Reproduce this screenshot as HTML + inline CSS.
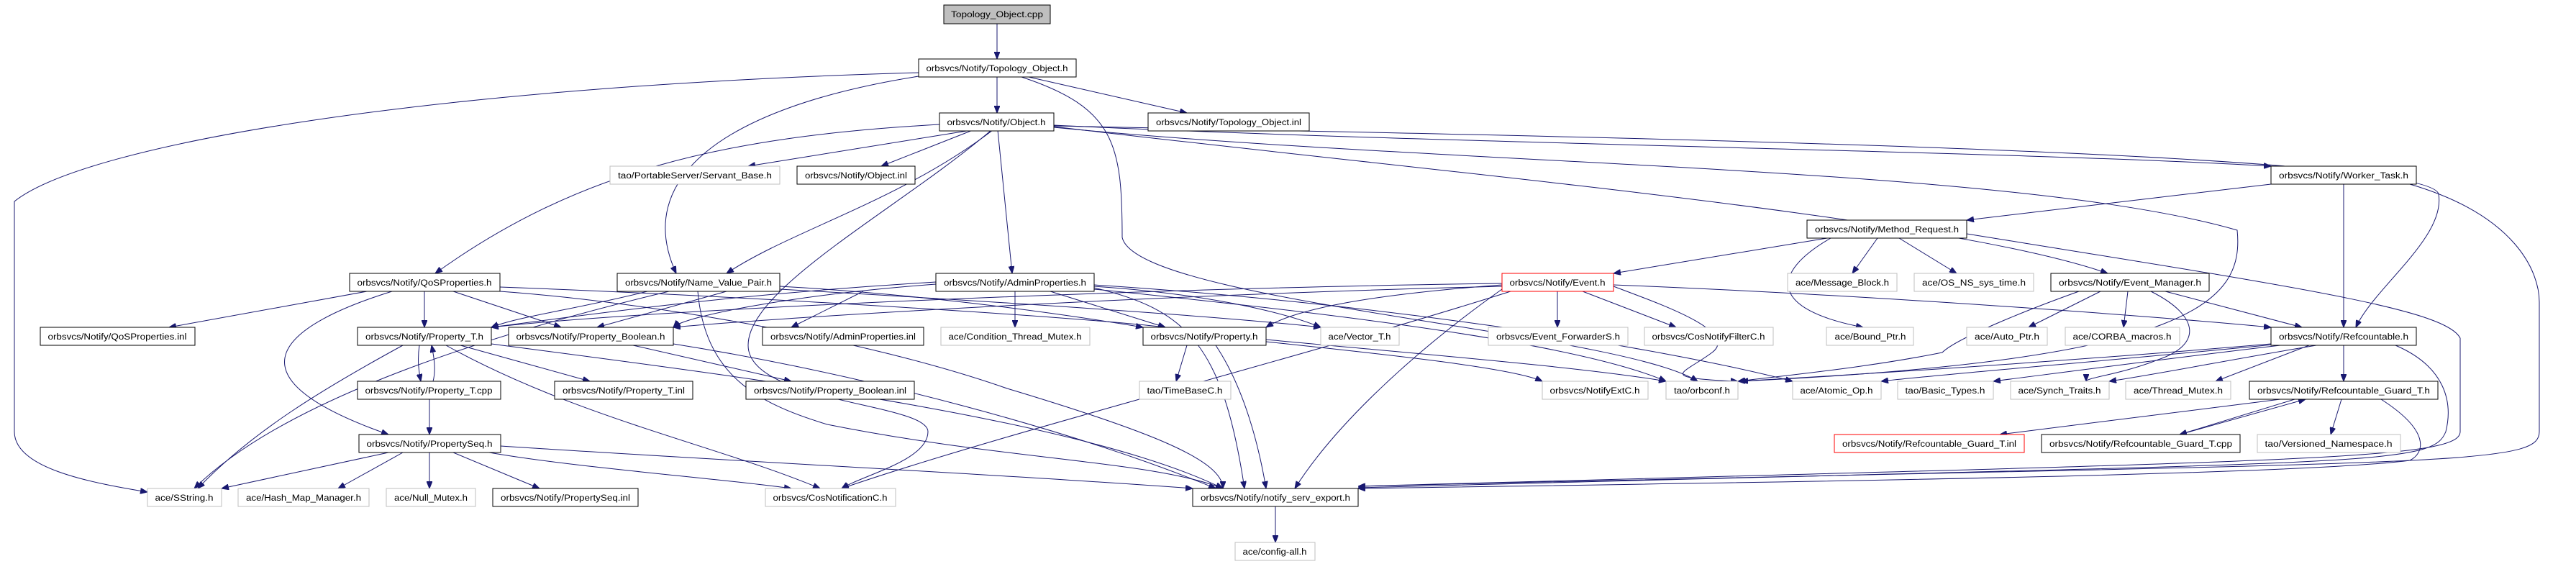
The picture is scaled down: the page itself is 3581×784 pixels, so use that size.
<!DOCTYPE html>
<html><head><meta charset="utf-8"><style>
html,body{margin:0;padding:0;background:#fff;}
svg{display:block;}
text{font-family:"Liberation Sans",sans-serif;font-size:11.5px;fill:#000;}
.n{fill:#fff;stroke:#000;stroke-width:1;}
.g{fill:#fff;stroke:#bfbfbf;stroke-width:1;}
.r{fill:#fff;stroke:#ff0000;stroke-width:1;}
.e{fill:none;stroke:#191970;stroke-width:1;}
</style></head><body>
<svg width="3581" height="784" viewBox="0 0 3581 784" xmlns="http://www.w3.org/2000/svg">
<defs><marker id="a" markerWidth="10" markerHeight="8" refX="10" refY="4" orient="auto" markerUnits="userSpaceOnUse"><path d="M0,0 L10,4 L0,8 z" fill="#191970" stroke="#191970"/></marker></defs>
<g class="e" marker-end="url(#a)">
<path d="M1386 33 L1386 82"/>
<path d="M1386 107 L1386 157"/>
<path d="M1430 107 L1650 157"/>
<path d="M1277 101 C600 120,120 200,20 280 L20 600 C20 650,120 670,205 684"/>
<path d="M1277 106 C1000 150,880 250,940 380"/>
<path d="M1420 107 C1550 150,1560 200,1560 330 C1580 420,2250 460,2360 530"/>
<path d="M1350 181 L1040 231"/>
<path d="M1352 181 L1225 231"/>
<path d="M1306 173 C1000 190,800 240,605 380"/>
<path d="M1380 181 C1250 280,1100 320,1010 380"/>
<path d="M1387 181 L1407 380"/>
<path d="M1378 181 C1250 290,1040 400,1040 480 C1040 560,1290 560,1290 600 C1290 640,1200 660,1170 679"/>
<path d="M1465 174 C2000 200,2800 210,3157 231"/>
<path d="M1465 176 C2000 240,2700 300,2930 380"/>
<path d="M1465 175 C2200 190,3380 210,3390 270 C3400 330,3300 400,3275 455"/>
<path d="M1465 177 C2000 230,2800 230,3110 320 C3120 420,3050 500,2420 530"/>
<path d="M3157 256 L2734 306"/>
<path d="M3258 256 L3258 455"/>
<path d="M3350 256 C3500 300,3530 380,3530 420 L3530 600 C3530 650,3400 640,1888 676"/>
<path d="M2540 331 L2243 380"/>
<path d="M2610 331 L2575 380"/>
<path d="M2640 331 L2720 380"/>
<path d="M2545 331 C2460 380,2460 430,2590 455"/>
<path d="M2734 325 C3200 400,3400 430,3420 470 L3420 600 C3420 640,3200 640,1888 676"/>
<path d="M510 405 L235 455"/>
<path d="M590 405 L590 455"/>
<path d="M630 405 L780 455"/>
<path d="M545 405 C400 450,300 520,540 604"/>
<path d="M695 399 C1000 410,1500 440,1620 455"/>
<path d="M695 405 C900 420,1200 470,1400 540 C1600 600,1700 640,1700 679"/>
<path d="M1010 405 L830 455"/>
<path d="M900 405 C800 430,720 440,683 455"/>
<path d="M1084 398 C1300 410,1500 440,1589 455"/>
<path d="M930 405 C700 460,400 550,270 679"/>
<path d="M970 405 C980 520,1050 560,1150 590 C1400 640,1600 640,1700 679"/>
<path d="M1084 402 C1400 420,1700 440,1836 455"/>
<path d="M1200 405 L1100 455"/>
<path d="M1411 405 L1411 455"/>
<path d="M1460 405 L1620 455"/>
<path d="M1301 395 C1100 410,950 440,936 455"/>
<path d="M1301 392 C1000 410,800 440,683 455"/>
<path d="M1521 398 C1700 410,1800 440,1836 455"/>
<path d="M1521 400 C1650 430,1700 480,1730 679"/>
<path d="M1521 402 C1900 440,2200 480,2316 530"/>
<path d="M1521 396 C1900 420,2300 480,2492 530"/>
<path d="M2165 405 L2165 455"/>
<path d="M2200 405 L2330 455"/>
<path d="M2088 396 C1900 410,1800 430,1760 455"/>
<path d="M2088 394 C1600 400,900 430,683 455"/>
<path d="M2088 398 C1600 410,1100 440,936 455"/>
<path d="M2243 398 C2300 420,2420 460,2380 490 C2340 520,2300 525,2416 530"/>
<path d="M2100 405 C1800 500,1400 600,1170 679"/>
<path d="M2243 396 C2600 410,3000 440,3157 455"/>
<path d="M2088 402 C1950 500,1850 600,1800 679"/>
<path d="M2920 405 L2820 455"/>
<path d="M2958 405 L2952 455"/>
<path d="M3010 405 L3200 455"/>
<path d="M2990 405 C3060 440,3060 480,3000 500 C2950 520,2900 525,2900 530"/>
<path d="M2890 405 C2820 430,2720 470,2700 490 C2600 510,2500 520,2416 530"/>
<path d="M3258 480 L3258 530"/>
<path d="M3157 478 C2900 500,2600 520,2416 530"/>
<path d="M3160 479 C2950 500,2700 520,2615 530"/>
<path d="M3170 480 C3000 500,2850 520,2771 530"/>
<path d="M3220 480 C3100 500,3000 520,2932 530"/>
<path d="M3210 480 L3080 530"/>
<path d="M3330 480 C3400 510,3410 560,3400 600 C3380 650,3300 640,1888 678"/>
<path d="M583 480 C580 500,582 515,585 530"/>
<path d="M602 530 C606 515,604 500,600 480"/>
<path d="M640 480 L820 530"/>
<path d="M560 480 C450 540,350 600,275 679"/>
<path d="M620 480 C800 580,1000 620,1140 679"/>
<path d="M683 478 C1000 520,1500 580,1700 679"/>
<path d="M880 480 L1100 530"/>
<path d="M936 478 C1200 520,1500 600,1690 679"/>
<path d="M1650 480 L1635 530"/>
<path d="M1690 480 C1730 540,1750 620,1760 679"/>
<path d="M1760 475 C1900 490,2100 510,2144 530"/>
<path d="M1760 472 C1950 490,2200 510,2316 530"/>
<path d="M597 555 L597 604"/>
<path d="M540 629 L308 679"/>
<path d="M560 629 L470 679"/>
<path d="M597 629 L597 679"/>
<path d="M630 629 L750 679"/>
<path d="M680 629 C800 650,1000 665,1100 679"/>
<path d="M696 620 C1000 640,1400 660,1658 679"/>
<path d="M3170 555 L2780 604"/>
<path d="M3190 555 L3030 604"/>
<path d="M3030 604 L3205 555"/>
<path d="M3255 555 L3240 604"/>
<path d="M3310 555 C3380 600,3370 630,3350 640 C3200 660,2500 670,1888 679"/>
<path d="M1773 704 L1773 754"/>
</g>
<g>
<rect x="1312" y="7" width="148" height="26" fill="#bfbfbf" stroke="#000"/><text x="1386" y="24" text-anchor="middle" textLength="128" lengthAdjust="spacingAndGlyphs">Topology_Object.cpp</text>
</g>
<g id="nodes">
<rect class="n" x="1277" y="82" width="219" height="25"/><text x="1386" y="99" text-anchor="middle" textLength="197" lengthAdjust="spacingAndGlyphs">orbsvcs/Notify/Topology_Object.h</text>
<rect class="n" x="1306" y="157" width="159" height="25"/><text x="1385" y="174" text-anchor="middle" textLength="137" lengthAdjust="spacingAndGlyphs">orbsvcs/Notify/Object.h</text>
<rect class="n" x="1596" y="157" width="224" height="25"/><text x="1708" y="174" text-anchor="middle" textLength="202" lengthAdjust="spacingAndGlyphs">orbsvcs/Notify/Topology_Object.inl</text>
<rect class="g" x="848" y="231" width="236" height="25"/><text x="966" y="248" text-anchor="middle" textLength="214" lengthAdjust="spacingAndGlyphs">tao/PortableServer/Servant_Base.h</text>
<rect class="n" x="1108" y="231" width="164" height="25"/><text x="1190" y="248" text-anchor="middle" textLength="142" lengthAdjust="spacingAndGlyphs">orbsvcs/Notify/Object.inl</text>
<rect class="n" x="3157" y="231" width="202" height="25"/><text x="3258" y="248" text-anchor="middle" textLength="180" lengthAdjust="spacingAndGlyphs">orbsvcs/Notify/Worker_Task.h</text>
<rect class="n" x="2512" y="306" width="222" height="25"/><text x="2623" y="323" text-anchor="middle" textLength="200" lengthAdjust="spacingAndGlyphs">orbsvcs/Notify/Method_Request.h</text>
<rect class="n" x="486" y="380" width="209" height="25"/><text x="590" y="397" text-anchor="middle" textLength="187" lengthAdjust="spacingAndGlyphs">orbsvcs/Notify/QoSProperties.h</text>
<rect class="n" x="858" y="380" width="226" height="25"/><text x="971" y="397" text-anchor="middle" textLength="204" lengthAdjust="spacingAndGlyphs">orbsvcs/Notify/Name_Value_Pair.h</text>
<rect class="n" x="1301" y="380" width="220" height="25"/><text x="1411" y="397" text-anchor="middle" textLength="198" lengthAdjust="spacingAndGlyphs">orbsvcs/Notify/AdminProperties.h</text>
<rect class="r" x="2088" y="380" width="155" height="25"/><text x="2165" y="397" text-anchor="middle" textLength="133" lengthAdjust="spacingAndGlyphs">orbsvcs/Notify/Event.h</text>
<rect class="g" x="2485" y="380" width="152" height="25"/><text x="2561" y="397" text-anchor="middle" textLength="130" lengthAdjust="spacingAndGlyphs">ace/Message_Block.h</text>
<rect class="g" x="2661" y="380" width="166" height="25"/><text x="2744" y="397" text-anchor="middle" textLength="144" lengthAdjust="spacingAndGlyphs">ace/OS_NS_sys_time.h</text>
<rect class="n" x="2851" y="380" width="220" height="25"/><text x="2961" y="397" text-anchor="middle" textLength="198" lengthAdjust="spacingAndGlyphs">orbsvcs/Notify/Event_Manager.h</text>
<rect class="n" x="56" y="455" width="215" height="25"/><text x="163" y="472" text-anchor="middle" textLength="193" lengthAdjust="spacingAndGlyphs">orbsvcs/Notify/QoSProperties.inl</text>
<rect class="n" x="497" y="455" width="186" height="25"/><text x="590" y="472" text-anchor="middle" textLength="164" lengthAdjust="spacingAndGlyphs">orbsvcs/Notify/Property_T.h</text>
<rect class="n" x="707" y="455" width="229" height="25"/><text x="821" y="472" text-anchor="middle" textLength="207" lengthAdjust="spacingAndGlyphs">orbsvcs/Notify/Property_Boolean.h</text>
<rect class="n" x="1060" y="455" width="224" height="25"/><text x="1172" y="472" text-anchor="middle" textLength="202" lengthAdjust="spacingAndGlyphs">orbsvcs/Notify/AdminProperties.inl</text>
<rect class="g" x="1308" y="455" width="207" height="25"/><text x="1411" y="472" text-anchor="middle" textLength="185" lengthAdjust="spacingAndGlyphs">ace/Condition_Thread_Mutex.h</text>
<rect class="n" x="1589" y="455" width="171" height="25"/><text x="1674" y="472" text-anchor="middle" textLength="149" lengthAdjust="spacingAndGlyphs">orbsvcs/Notify/Property.h</text>
<rect class="g" x="1836" y="455" width="109" height="25"/><text x="1890" y="472" text-anchor="middle" textLength="87" lengthAdjust="spacingAndGlyphs">ace/Vector_T.h</text>
<rect class="g" x="2069" y="455" width="194" height="25"/><text x="2166" y="472" text-anchor="middle" textLength="172" lengthAdjust="spacingAndGlyphs">orbsvcs/Event_ForwarderS.h</text>
<rect class="g" x="2286" y="455" width="179" height="25"/><text x="2375" y="472" text-anchor="middle" textLength="157" lengthAdjust="spacingAndGlyphs">orbsvcs/CosNotifyFilterC.h</text>
<rect class="g" x="2539" y="455" width="121" height="25"/><text x="2600" y="472" text-anchor="middle" textLength="99" lengthAdjust="spacingAndGlyphs">ace/Bound_Ptr.h</text>
<rect class="g" x="2734" y="455" width="112" height="25"/><text x="2790" y="472" text-anchor="middle" textLength="90" lengthAdjust="spacingAndGlyphs">ace/Auto_Ptr.h</text>
<rect class="g" x="2871" y="455" width="159" height="25"/><text x="2950" y="472" text-anchor="middle" textLength="137" lengthAdjust="spacingAndGlyphs">ace/CORBA_macros.h</text>
<rect class="n" x="3157" y="455" width="202" height="25"/><text x="3258" y="472" text-anchor="middle" textLength="180" lengthAdjust="spacingAndGlyphs">orbsvcs/Notify/Refcountable.h</text>
<rect class="n" x="497" y="530" width="199" height="25"/><text x="596" y="547" text-anchor="middle" textLength="177" lengthAdjust="spacingAndGlyphs">orbsvcs/Notify/Property_T.cpp</text>
<rect class="n" x="771" y="530" width="192" height="25"/><text x="867" y="547" text-anchor="middle" textLength="170" lengthAdjust="spacingAndGlyphs">orbsvcs/Notify/Property_T.inl</text>
<rect class="n" x="1037" y="530" width="234" height="25"/><text x="1154" y="547" text-anchor="middle" textLength="212" lengthAdjust="spacingAndGlyphs">orbsvcs/Notify/Property_Boolean.inl</text>
<rect class="g" x="1584" y="530" width="127" height="25"/><text x="1647" y="547" text-anchor="middle" textLength="105" lengthAdjust="spacingAndGlyphs">tao/TimeBaseC.h</text>
<rect class="g" x="2144" y="530" width="147" height="25"/><text x="2217" y="547" text-anchor="middle" textLength="125" lengthAdjust="spacingAndGlyphs">orbsvcs/NotifyExtC.h</text>
<rect class="g" x="2316" y="530" width="100" height="25"/><text x="2366" y="547" text-anchor="middle" textLength="78" lengthAdjust="spacingAndGlyphs">tao/orbconf.h</text>
<rect class="g" x="2492" y="530" width="123" height="25"/><text x="2553" y="547" text-anchor="middle" textLength="101" lengthAdjust="spacingAndGlyphs">ace/Atomic_Op.h</text>
<rect class="g" x="2638" y="530" width="133" height="25"/><text x="2704" y="547" text-anchor="middle" textLength="111" lengthAdjust="spacingAndGlyphs">tao/Basic_Types.h</text>
<rect class="g" x="2795" y="530" width="137" height="25"/><text x="2863" y="547" text-anchor="middle" textLength="115" lengthAdjust="spacingAndGlyphs">ace/Synch_Traits.h</text>
<rect class="g" x="2955" y="530" width="146" height="25"/><text x="3028" y="547" text-anchor="middle" textLength="124" lengthAdjust="spacingAndGlyphs">ace/Thread_Mutex.h</text>
<rect class="n" x="3127" y="530" width="262" height="25"/><text x="3258" y="547" text-anchor="middle" textLength="240" lengthAdjust="spacingAndGlyphs">orbsvcs/Notify/Refcountable_Guard_T.h</text>
<rect class="n" x="499" y="604" width="197" height="25"/><text x="597" y="621" text-anchor="middle" textLength="175" lengthAdjust="spacingAndGlyphs">orbsvcs/Notify/PropertySeq.h</text>
<rect class="r" x="2550" y="604" width="264" height="25"/><text x="2682" y="621" text-anchor="middle" textLength="242" lengthAdjust="spacingAndGlyphs">orbsvcs/Notify/Refcountable_Guard_T.inl</text>
<rect class="n" x="2838" y="604" width="276" height="25"/><text x="2976" y="621" text-anchor="middle" textLength="254" lengthAdjust="spacingAndGlyphs">orbsvcs/Notify/Refcountable_Guard_T.cpp</text>
<rect class="g" x="3138" y="604" width="199" height="25"/><text x="3237" y="621" text-anchor="middle" textLength="177" lengthAdjust="spacingAndGlyphs">tao/Versioned_Namespace.h</text>
<rect class="g" x="205" y="679" width="103" height="25"/><text x="256" y="696" text-anchor="middle" textLength="81" lengthAdjust="spacingAndGlyphs">ace/SString.h</text>
<rect class="g" x="331" y="679" width="182" height="25"/><text x="422" y="696" text-anchor="middle" textLength="160" lengthAdjust="spacingAndGlyphs">ace/Hash_Map_Manager.h</text>
<rect class="g" x="537" y="679" width="124" height="25"/><text x="599" y="696" text-anchor="middle" textLength="102" lengthAdjust="spacingAndGlyphs">ace/Null_Mutex.h</text>
<rect class="n" x="685" y="679" width="202" height="25"/><text x="786" y="696" text-anchor="middle" textLength="180" lengthAdjust="spacingAndGlyphs">orbsvcs/Notify/PropertySeq.inl</text>
<rect class="g" x="1064" y="679" width="181" height="25"/><text x="1154" y="696" text-anchor="middle" textLength="159" lengthAdjust="spacingAndGlyphs">orbsvcs/CosNotificationC.h</text>
<rect class="n" x="1658" y="679" width="230" height="25"/><text x="1773" y="696" text-anchor="middle" textLength="208" lengthAdjust="spacingAndGlyphs">orbsvcs/Notify/notify_serv_export.h</text>
<rect class="g" x="1717" y="754" width="111" height="25"/><text x="1772" y="771" text-anchor="middle" textLength="89" lengthAdjust="spacingAndGlyphs">ace/config-all.h</text>
</g>
</svg>
</body></html>
